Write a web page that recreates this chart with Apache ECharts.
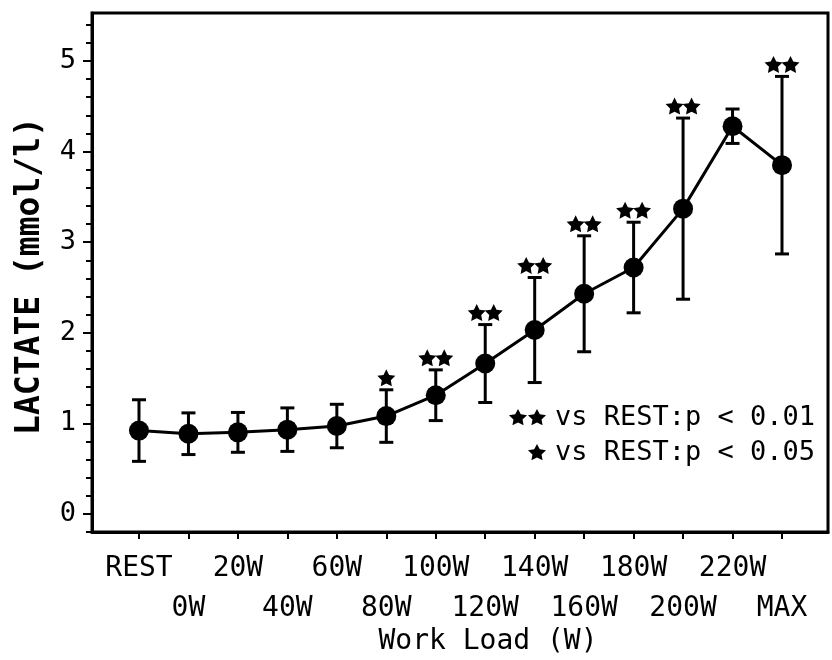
<!DOCTYPE html>
<html>
<head>
<meta charset="utf-8">
<script src="https://cdn.jsdelivr.net/npm/echarts@6/dist/echarts.min.js"></script>
<style>html,body{margin:0;padding:0;background:#fff}#c{width:832px;height:660px}</style>
</head>
<body>
<div id="c"></div>
<script>
// ---- data ----
var categories = ['REST','0W','20W','40W','60W','80W','100W','120W','140W','160W','180W','200W','220W','MAX'];
var lactateMean = [0.92, 0.885, 0.90, 0.93, 0.97, 1.08, 1.31, 1.66, 2.03, 2.43, 2.72, 3.37, 4.28, 3.85];
var lactateSD   = [0.34, 0.23, 0.22, 0.24, 0.24, 0.29, 0.28, 0.43, 0.58, 0.64, 0.50, 1.00, 0.19, 0.98];
var significance = ['', '', '', '', '', '*', '**', '**', '**', '**', '**', '**', '', '**'];
var yTickLabels = [0, 1, 2, 3, 4, 5];
var legendRows = ['vs REST:p < 0.01', 'vs REST:p < 0.05'];

var MONO = 'DejaVu Sans Mono';
var idx = categories.map(function (c, i) { return i; });
var evenIdx = idx.filter(function (i) { return i % 2 === 0; });
var oddIdx = idx.filter(function (i) { return i % 2 === 1; });
var minorTicks = [];
for (var k = -1; k <= 27; k++) { minorTicks.push(Math.round(k * 0.2 * 10) / 10); }

var meanData = idx.map(function (i) { return [i, lactateMean[i]]; });
var errData = idx.map(function (i) { return [i, lactateMean[i] - lactateSD[i], lactateMean[i] + lactateSD[i]]; });
function capsWith(sig) {
  return idx.filter(function (i) { return significance[i] === sig; })
    .map(function (i) { return [i, lactateMean[i] + lactateSD[i]]; });
}
var singleStar = capsWith('*');
var doubleStar = capsWith('**');
function catLabel(v) { return categories[Math.round(v)]; }

// star glyph outline in a 100x100 box
var STAR_PTS = [[50,0],[64.7,29.8],[97.6,34.5],[73.8,57.7],[79.4,90.5],[50,75],[20.6,90.5],[26.2,57.7],[2.4,34.5],[35.3,29.8]];
var STAR = 'M' + STAR_PTS.map(function (p) { return p[0] + ' ' + p[1]; }).join(' L') + ' Z';
function starSeries(data, dx) {
  return {
    type: 'scatter', data: data, z: 4,
    symbol: 'path://' + STAR, symbolSize: [18, 17], symbolOffset: [dx, -12],
    itemStyle: { color: '#000', opacity: 1 }
  };
}
function legendStar(cx, cy) {
  return { type: 'polygon', shape: { points: STAR_PTS.map(function (p) { return [cx - 9.5 + p[0] * 0.19, cy - 9 + p[1] * 0.18]; }) }, style: { fill: '#000' } };
}

var chart = echarts.init(document.getElementById('c'), null, { renderer: 'canvas' });
chart.setOption({
  animation: false,
  backgroundColor: '#fff',
  grid: { left: 92, top: 13, right: 4, bottom: 128, show: true, borderColor: '#000', borderWidth: 3, backgroundColor: 'transparent' },
  xAxis: [{
    type: 'value', min: -0.95, max: 13.93,
    splitLine: { show: false },
    axisLine: { show: true, onZero: false, lineStyle: { color: '#000', width: 3 } },
    axisTick: { show: true, customValues: idx, length: 7, lineStyle: { color: '#000', width: 2 } },
    axisLabel: { customValues: evenIdx, margin: 23, color: '#000', fontFamily: MONO, fontSize: 28, formatter: catLabel }
  }, {
    type: 'value', min: -0.95, max: 13.93, position: 'bottom',
    splitLine: { show: false },
    axisLine: { show: false, onZero: false },
    axisTick: { show: false },
    axisLabel: { customValues: oddIdx, margin: 63, color: '#000', fontFamily: MONO, fontSize: 28, formatter: catLabel }
  }],
  yAxis: [{
    type: 'value', min: -0.2, max: 5.53,
    splitLine: { show: false },
    axisLine: { show: true, onZero: false, lineStyle: { color: '#000', width: 3 } },
    axisTick: { show: true, customValues: yTickLabels, length: 9, lineStyle: { color: '#000', width: 2 } },
    axisLabel: { customValues: yTickLabels, margin: 16, color: '#000', fontFamily: MONO, fontSize: 27, formatter: function (v) { return String(Math.round(v)); } }
  }, {
    type: 'value', min: -0.2, max: 5.53, position: 'left',
    splitLine: { show: false },
    axisLine: { show: false, onZero: false },
    axisTick: { show: true, customValues: minorTicks, length: 6, lineStyle: { color: '#000', width: 2 } },
    axisLabel: { show: false }
  }],
  series: [{
    type: 'custom',
    data: errData,
    z: 2,
    renderItem: function (params, api) {
      var x = api.value(0);
      var lo = api.coord([x, api.value(1)]);
      var hi = api.coord([x, api.value(2)]);
      var w = 7;
      var st = { stroke: '#000', lineWidth: 3 };
      return { type: 'group', children: [
        { type: 'line', shape: { x1: lo[0], y1: lo[1], x2: hi[0], y2: hi[1] }, style: st },
        { type: 'line', shape: { x1: lo[0] - w, y1: lo[1], x2: lo[0] + w, y2: lo[1] }, style: st },
        { type: 'line', shape: { x1: hi[0] - w, y1: hi[1], x2: hi[0] + w, y2: hi[1] }, style: st }
      ] };
    }
  }, {
    type: 'line',
    data: meanData,
    z: 3,
    symbol: 'circle', symbolSize: 20,
    itemStyle: { color: '#000' },
    lineStyle: { color: '#000', width: 3 }
  },
  starSeries(singleStar, 0),
  starSeries(doubleStar, -8.5),
  starSeries(doubleStar, 8.5)
  ],
  graphic: [
    { type: 'text', x: 30, y: 276, rotation: Math.PI / 2,
      style: { text: 'LACTATE (mmol/l)', fill: '#000', font: 'bold 33px "DejaVu Sans Mono"', textAlign: 'center', textVerticalAlign: 'middle' } },
    { type: 'text', x: 488, y: 642,
      style: { text: 'Work Load (W)', fill: '#000', font: '28px "DejaVu Sans Mono"', textAlign: 'center', textVerticalAlign: 'middle' } },
    legendStar(518, 418), legendStar(537, 418),
    { type: 'text', x: 555, y: 418,
      style: { text: legendRows[0], fill: '#000', font: '27px "DejaVu Sans Mono"', textAlign: 'left', textVerticalAlign: 'middle' } },
    legendStar(537, 453),
    { type: 'text', x: 555, y: 453,
      style: { text: legendRows[1], fill: '#000', font: '27px "DejaVu Sans Mono"', textAlign: 'left', textVerticalAlign: 'middle' } }
  ]
});
</script>
</body>
</html>
